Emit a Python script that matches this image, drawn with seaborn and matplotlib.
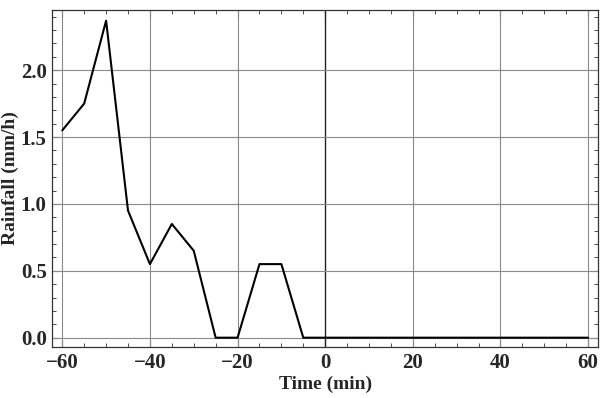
import matplotlib
matplotlib.use("Agg")
import matplotlib.pyplot as plt
import seaborn as sns
import pandas as pd
from matplotlib.ticker import MultipleLocator

time_min = [-60, -55, -50, -45, -40, -35, -30, -25, -20, -15, -10, -5, 0,
            5, 10, 15, 20, 25, 30, 35, 40, 45, 50, 55, 60]
rainfall = [1.55, 1.75, 2.37, 0.95, 0.55, 0.85, 0.65, 0.0, 0.0, 0.55, 0.55, 0.0, 0.0,
            0.0, 0.0, 0.0, 0.0, 0.0, 0.0, 0.0, 0.0, 0.0, 0.0, 0.0, 0.0]
x_ticks = [-60, -40, -20, 0, 20, 40, 60]
y_ticks = [0.0, 0.5, 1.0, 1.5, 2.0]

df = pd.DataFrame({"Time (min)": time_min, "Rainfall (mm/h)": rainfall})

sns.set_theme(style="ticks")
plt.rcParams['font.family'] = ['Liberation Serif', 'DejaVu Serif']

fig = plt.figure(figsize=(6, 3.98), dpi=100)
ax = fig.add_axes([0.087, 0.128, 0.91, 0.847])

ax.set_xlim(-62.3, 62.3)
ax.set_ylim(-0.07, 2.45)

for x in x_ticks:
    ax.axvline(x, color="#222222" if x == 0 else "#8a8a8a", lw=1.0 if x == 0 else 0.8, zorder=1)
for y in y_ticks:
    ax.axhline(y, color="#8a8a8a", lw=0.8, zorder=1)

sns.lineplot(data=df, x="Time (min)", y="Rainfall (mm/h)", color="black", lw=1.5, ax=ax, zorder=3)

ax.set_xticks(x_ticks)
ax.set_xticklabels([f"{v}".replace("-", "\u2212") for v in x_ticks])
ax.set_yticks(y_ticks)
ax.set_yticklabels([f"{v:.1f}" for v in y_ticks])
ax.xaxis.set_minor_locator(MultipleLocator(5))
ax.yaxis.set_minor_locator(MultipleLocator(0.1))
ax.tick_params(which="both", direction="in", top=True, right=True, color="#333333")
ax.tick_params(which="major", length=5, width=0.8, labelsize=15, pad=4)
ax.tick_params(which="minor", length=3, width=0.6)
for lab in ax.get_xticklabels() + ax.get_yticklabels():
    lab.set_fontweight("bold")
for s in ax.spines.values():
    s.set_color("#333333")
    s.set_linewidth(0.9)

ax.set_xlabel("Time (min)", fontsize=14, fontweight="bold", labelpad=2)
ax.set_ylabel("Rainfall (mm/h)", fontsize=14, fontweight="bold")
ax.yaxis.set_label_coords(-0.077, 0.5)
ax.yaxis.label.set_verticalalignment("center")

fig.savefig("out.png", dpi=100)
